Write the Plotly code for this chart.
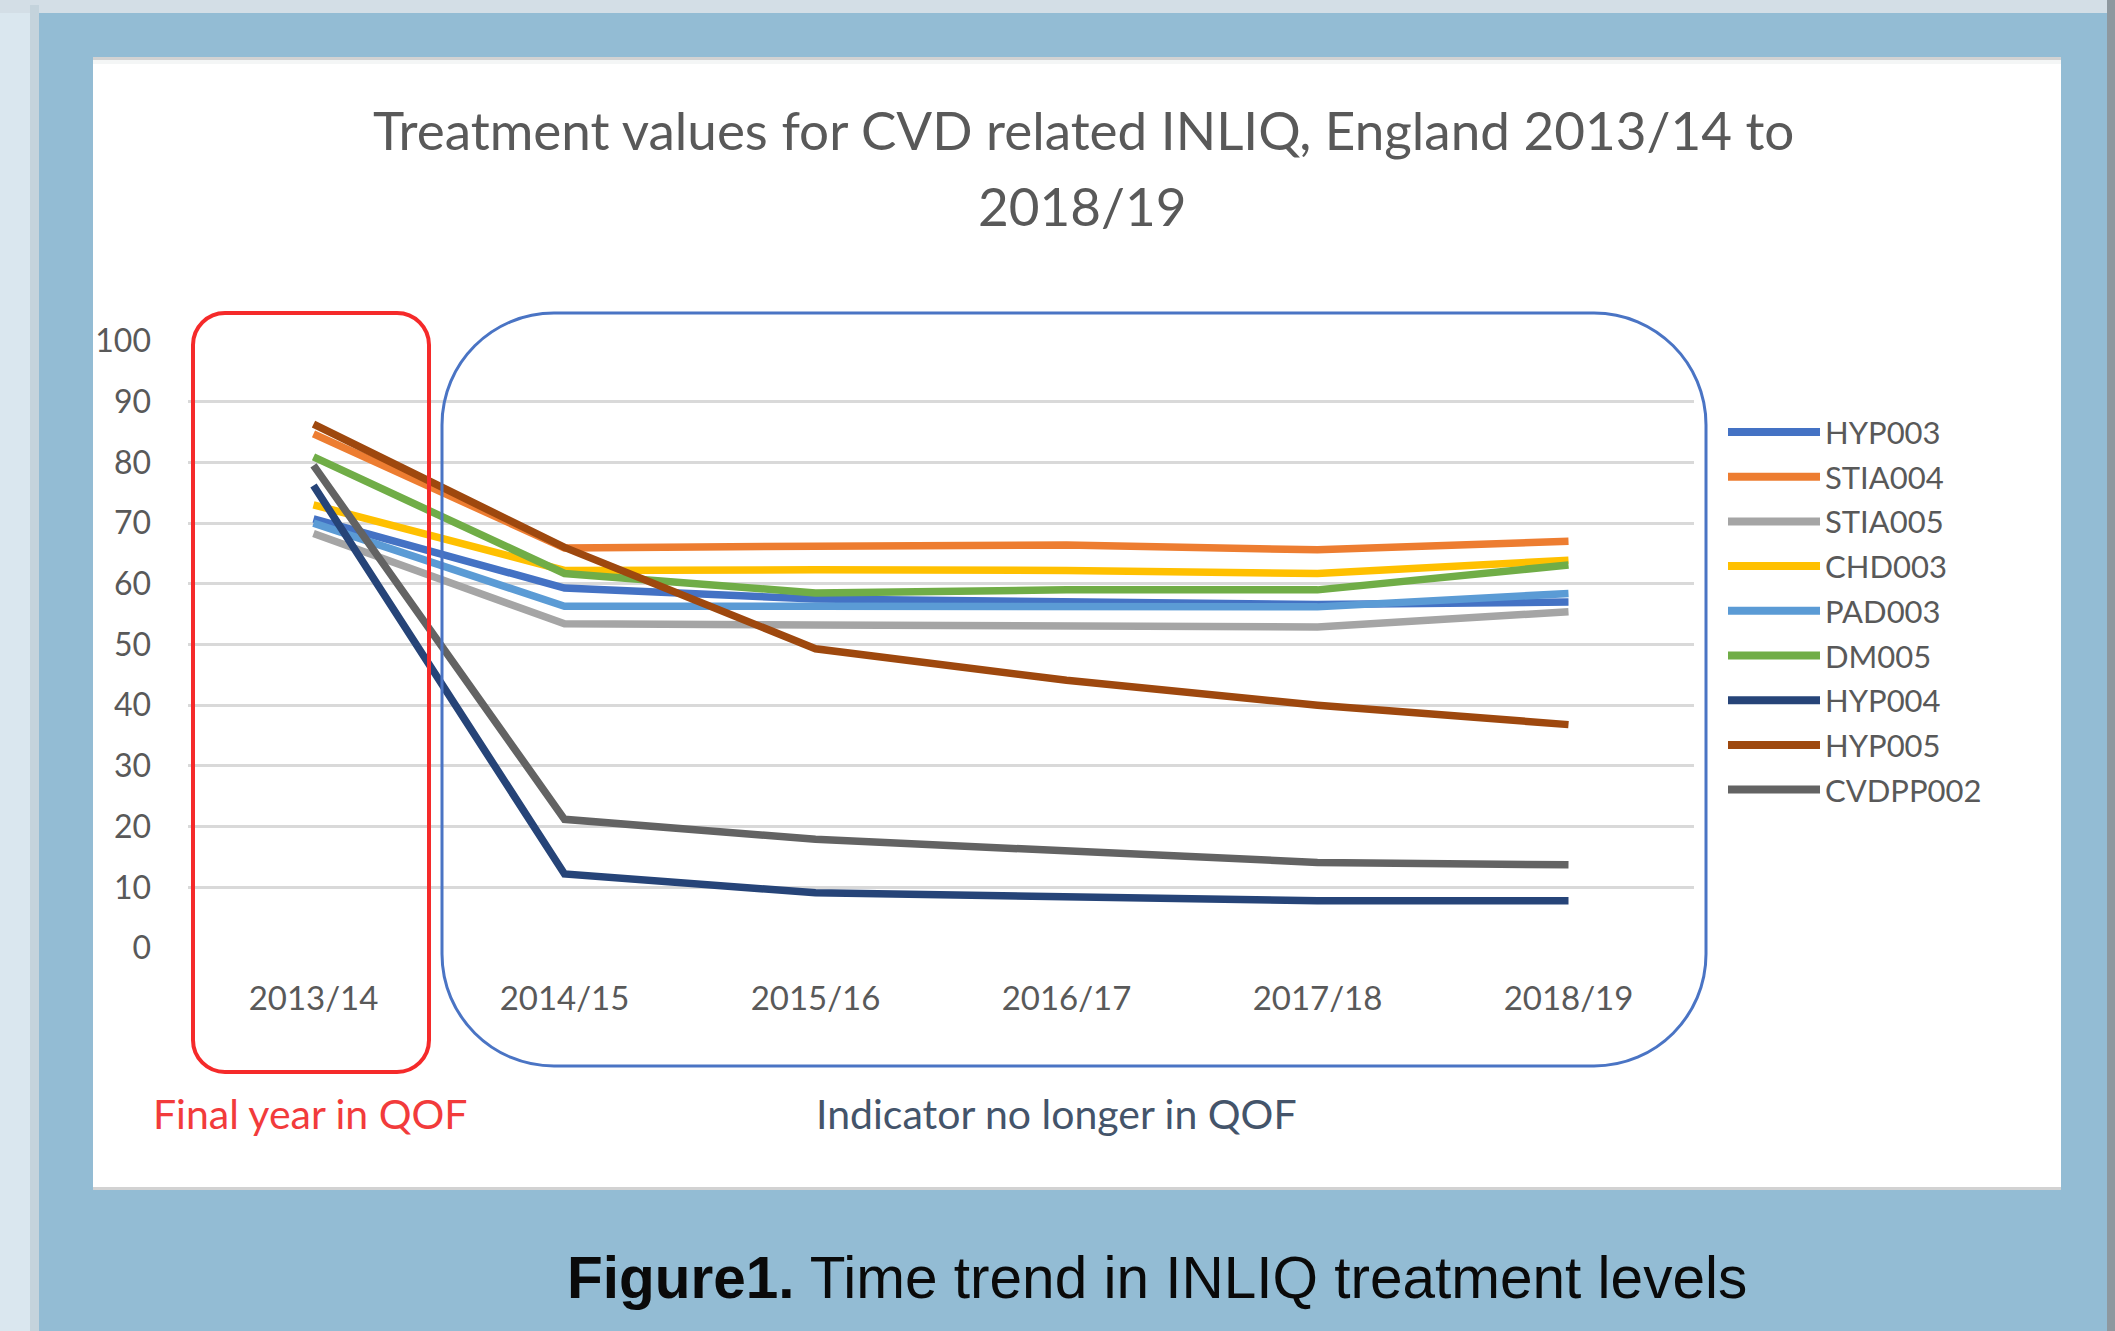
import plotly.graph_objects as go

# ---------------- data ----------------
categories = ["2013/14", "2014/15", "2015/16", "2016/17", "2017/18", "2018/19"]
series_names = ["HYP003", "STIA004", "STIA005", "CHD003", "PAD003", "DM005", "HYP004", "HYP005", "CVDPP002"]
HYP003 = [70.7, 59.3, 57.5, 57.2, 56.6, 57.0]
STIA004 = [84.7, 65.9, 66.2, 66.4, 65.6, 67.0]
STIA005 = [68.3, 53.4, 53.2, 53.2, 52.9, 55.4]
CHD003 = [73.0, 62.2, 62.3, 62.2, 61.7, 63.9]
PAD003 = [70.0, 56.3, 56.3, 56.4, 56.2, 58.4]
DM005 = [80.9, 61.7, 58.5, 59.0, 59.0, 63.1]
HYP004 = [76.2, 12.2, 9.1, 8.5, 7.8, 7.8]
HYP005 = [86.3, 66.0, 49.3, 44.1, 40.0, 36.8]
CVDPP002 = [79.5, 21.2, 17.9, 16.0, 14.1, 13.7]
y_ticks = [0, 10, 20, 30, 40, 50, 60, 70, 80, 90, 100]

series_values = [HYP003, STIA004, STIA005, CHD003, PAD003, DM005, HYP004, HYP005, CVDPP002]
colors = ["#4472C4", "#ED7D31", "#A5A5A5", "#FFC000", "#5B9BD5", "#70AD47", "#264478", "#9E480E", "#636363"]

# ---------------- layout geometry (pixels) ----------------
W, H = 2115, 1331
L, R, T, B = 188, 1694, 341, 948


def px(x):
    return (x - L) / (R - L)


def py(y):
    return (B - y) / (B - T)


def rrect_path(x0, y0, x1, y1, r):
    k = 0.5523 * r
    pts = [
        ("M", [(x0 + r, y0)]),
        ("L", [(x1 - r, y0)]),
        ("C", [(x1 - r + k, y0), (x1, y0 + r - k), (x1, y0 + r)]),
        ("L", [(x1, y1 - r)]),
        ("C", [(x1, y1 - r + k), (x1 - r + k, y1), (x1 - r, y1)]),
        ("L", [(x0 + r, y1)]),
        ("C", [(x0 + r - k, y1), (x0, y1 - r + k), (x0, y1 - r)]),
        ("L", [(x0, y0 + r)]),
        ("C", [(x0, y0 + r - k), (x0 + r - k, y0), (x0 + r, y0)]),
    ]
    s = ""
    for cmd, ps in pts:
        s += cmd + " ".join(f"{px(a):.5f},{py(b):.5f}" for a, b in ps) + " "
    return s + "Z"


fig = go.Figure()

for name, vals, col in zip(series_names, series_values, colors):
    fig.add_trace(go.Scatter(
        x=categories, y=vals, mode="lines", name=name,
        line=dict(color=col, width=7.5), showlegend=False,
    ))

shapes = []


def rect(x0, y0, x1, y1, color, layer="below"):
    shapes.append(dict(type="rect", xref="paper", yref="paper",
                       x0=px(x0), x1=px(x1), y0=py(y1), y1=py(y0),
                       fillcolor=color, line=dict(width=0), layer=layer))


# outer light surround and shadows
rect(0, 0, W, 13, "#D3DEE6")
rect(30, 5, 39, H, "#C4D3DC")
rect(2107, 0, W, H, "#8E989F")
# blue frame
rect(39, 13, 2107, H, "#93BCD4")
# white panel
rect(93, 57, 2061, 1190, "#D2D2D2")
rect(93, 60, 2061, 1187, "#F4F6F6")
rect(93, 64, 2061, 1187, "#FFFFFF")

# highlight boxes (drawn above the lines)
shapes.append(dict(type="path", xref="paper", yref="paper",
                   path=rrect_path(193, 313, 429, 1072, 32),
                   line=dict(color="#F52A2A", width=4), layer="above"))
shapes.append(dict(type="path", xref="paper", yref="paper",
                   path=rrect_path(442, 313, 1706, 1066, 112),
                   line=dict(color="#4A74C4", width=3), layer="above"))

# manual legend (long line samples like the original)
leg_x0, leg_x1, leg_text_x = 1728, 1820, 1823
leg_y0, leg_dy = 432, 44.7
annotations = []
for i, (name, col) in enumerate(zip(series_names, colors)):
    yy = leg_y0 + i * leg_dy
    shapes.append(dict(type="line", xref="paper", yref="paper",
                       x0=px(leg_x0), x1=px(leg_x1), y0=py(yy), y1=py(yy),
                       line=dict(color=col, width=8), layer="above"))
    annotations.append(dict(xref="paper", yref="paper", x=px(leg_text_x), y=py(yy),
                            xanchor="left", yanchor="middle", showarrow=False,
                            text=name, font=dict(family="Lato", size=31, color="#595959")))

# titles / labels
annotations += [
    dict(xref="paper", yref="paper", x=px(1083), y=py(130), xanchor="center", yanchor="middle",
         showarrow=False, text="Treatment values for CVD related INLIQ, England 2013/14 to",
         font=dict(family="Lato", size=53, color="#595959")),
    dict(xref="paper", yref="paper", x=px(1082), y=py(205), xanchor="center", yanchor="middle",
         showarrow=False, text="2018/19",
         font=dict(family="Lato", size=53, color="#595959")),
    dict(xref="paper", yref="paper", x=px(310), y=py(1113), xanchor="center", yanchor="middle",
         showarrow=False, text="Final year in QOF",
         font=dict(family="Lato", size=41, color="#F23B3B")),
    dict(xref="paper", yref="paper", x=px(1056), y=py(1113), xanchor="center", yanchor="middle",
         showarrow=False, text="Indicator no longer in QOF",
         font=dict(family="Lato", size=41, color="#44546A")),
    dict(xref="paper", yref="paper", x=px(1157), y=py(1277), xanchor="center", yanchor="middle",
         showarrow=False, text="<b>Figure1.</b> Time trend in INLIQ treatment levels",
         font=dict(family="Liberation Sans", size=58.5, color="#0A0A0A")),
]

fig.update_layout(
    width=W, height=H,
    margin=dict(l=L, r=W - R, t=T, b=H - B, pad=0),
    paper_bgcolor="#DAE7EF",
    plot_bgcolor="rgba(0,0,0,0)",
    shapes=shapes,
    annotations=annotations,
    showlegend=False,
    xaxis=dict(
        type="category", range=[-0.5, 5.5], showgrid=False, zeroline=False,
        showline=False, ticks="", ticklabelstandoff=28,
        tickfont=dict(family="Lato", size=33, color="#595959"),
    ),
    yaxis=dict(
        range=[0, 100], tickvals=y_ticks, showgrid=True, gridcolor="#D9D9D9", gridwidth=3,
        zeroline=False, showline=False, ticks="", ticklabelstandoff=36,
        tickfont=dict(family="Lato", size=32, color="#595959"),
    ),
)

fig.write_html(
    "out.html",
    config={"displayModeBar": False},
    post_script="document.body.style.margin='0';document.body.style.overflow='hidden';"
                "document.body.style.background='#DAE7EF';",
)
